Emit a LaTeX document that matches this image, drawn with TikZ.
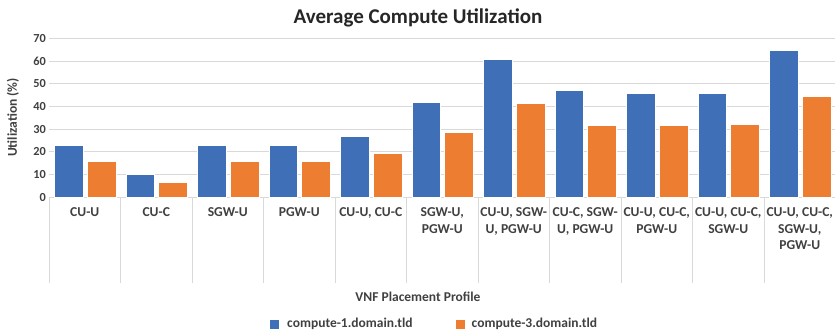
\documentclass[tikz,border=0pt]{standalone}
\usepackage{fontspec}
\setmainfont{Carlito}
\definecolor{serA}{HTML}{3E6FB7}
\definecolor{serB}{HTML}{ED7D31}
\definecolor{gridc}{HTML}{D9D9D9}
\definecolor{txt}{HTML}{404040}
\definecolor{ttl}{HTML}{262626}
\begin{document}
\begin{tikzpicture}[x=1pt,y=-1pt,
  gridline/.style={draw=gridc,line width=0.9pt},
  catline/.style={draw=gridc,line width=0.9pt},
  barA/.style={fill=serA,draw=white,line width=0.4pt},
  barB/.style={fill=serB,draw=white,line width=0.4pt},
  ticklab/.style={anchor=east,text=txt,font=\bfseries\fontsize{12.3}{14}\selectfont,inner sep=0pt},
  catlab/.style={anchor=north,text=txt,align=center,inner sep=0pt,
    font=\bfseries\fontsize{13.6}{16.5}\selectfont},
  axtitle/.style={text=txt,inner sep=0pt,font=\bfseries\fontsize{13.5}{15}\selectfont},
  legtext/.style={anchor=west,text=txt,inner sep=0pt,font=\bfseries\fontsize{13.5}{15}\selectfont}]
\useasboundingbox (0,0) rectangle (835,332);
\def\yz{197.3}
\def\ys{2.27}
% gridlines and value labels
\foreach \v in {10,20,...,70}
  \draw[gridline] (49,\yz-\ys*\v) -- (835,\yz-\ys*\v);
\foreach \v in {0,10,...,70}
  \node[ticklab] (tick\v) at (46,\yz-\ys*\v) {\v};
% category separators and baseline
\foreach \i in {0,...,11}
  \draw[catline] (49+71.5*\i,\yz) -- (49+71.5*\i,283);
\draw[gridline] (49,\yz) -- (835,\yz);
% bars
\foreach \i/\a/\b in {0/23/16,1/10.1/6.8,2/23/16,3/23/16,4/27/19.3,5/42/28.8,
                      6/60.8/41.5,7/47.2/31.8,8/45.9/31.8,9/45.8/32.3,10/64.8/44.6}{
  \path[barA] (49+71.5*\i+5.3,\yz) rectangle (49+71.5*\i+34,\yz-\ys*\a);
  \path[barB] (49+71.5*\i+37.7,\yz) rectangle (49+71.5*\i+66.7,\yz-\ys*\b);
}
% category labels
\foreach \i/\t in {0/CU-U,1/CU-C,2/SGW-U,3/PGW-U,4/{CU-U, CU-C},5/{SGW-U,\\PGW-U},
                   6/{CU-U, SGW-\\U, PGW-U},7/{CU-C, SGW-\\U, PGW-U},
                   8/{CU-U, CU-C,\\PGW-U},9/{CU-U, CU-C,\\SGW-U},
                   10/{CU-U, CU-C,\\SGW-U,\\PGW-U}}
  \node[catlab] (cat\i) at (49+71.5*\i+35.75,207.5) {\t};
% titles
\node[text=ttl,inner sep=0pt,font=\bfseries\fontsize{21}{24}\selectfont] (title) at (418,18) {Average Compute Utilization};
\node[axtitle,rotate=90] (ytitle) at (13,117.5) {Utilization (\%)};
\node[axtitle] (xtitle) at (418,297) {VNF Placement Profile};
% legend
\fill[serA] (270,319.5) rectangle (279,328.5);
\node[legtext] (legA) at (287,324) {compute-1.domain.tld};
\fill[serB] (456,319.5) rectangle (465,328.5);
\node[legtext] (legB) at (471.5,324) {compute-3.domain.tld};
\end{tikzpicture}
\end{document}
